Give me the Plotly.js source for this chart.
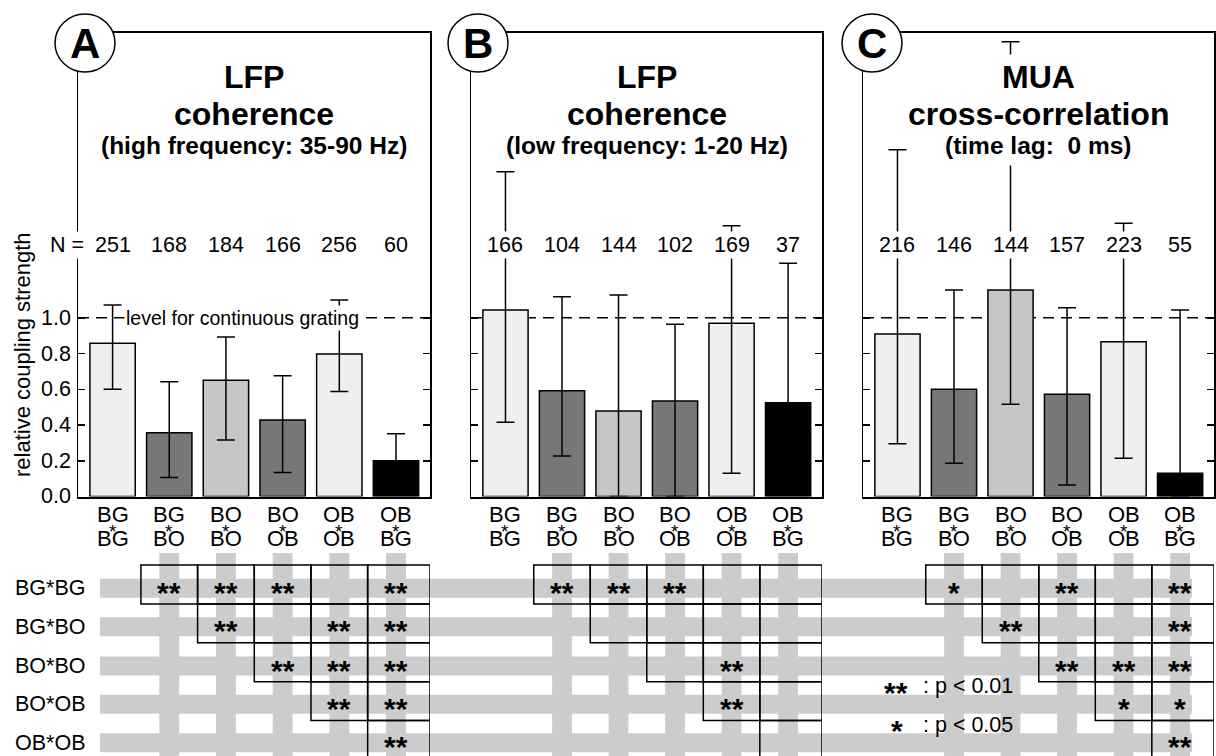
<!DOCTYPE html>
<html>
<head>
<meta charset="utf-8">
<script src="https://cdn.plot.ly/plotly-3.0.1.min.js"></script>
<style>
html,body{margin:0;padding:0;background:#fff;}
#chart{width:1216px;height:756px;}
</style>
</head>
<body>
<div id="chart"></div>
<script>
// Stimulus pair categories (first * second), one bar each
const categories = ['BG*BG', 'BG*BO', 'BO*BO', 'BO*OB', 'OB*OB', 'OB*BG'];
const pairTop    = ['BG', 'BG', 'BO', 'BO', 'OB', 'OB'];
const pairBottom = ['BG', 'BO', 'BO', 'OB', 'OB', 'BG'];
const barColors  = ['#efefef', '#777777', '#c6c6c6', '#777777', '#efefef', '#000000'];

// Panel A: LFP coherence, high frequency (35-90 Hz)
const meanA  = [0.857, 0.357, 0.650, 0.428, 0.797, 0.200];
const upperA = [1.072, 0.642, 0.893, 0.676, 1.100, 0.351];
const lowerA = [0.600, 0.107, 0.316, 0.135, 0.587, 0.060];
const nA     = [251, 168, 184, 166, 256, 60];

// Panel B: LFP coherence, low frequency (1-20 Hz)
const meanB  = [1.044, 0.592, 0.478, 0.534, 0.969, 0.525];
const upperB = [1.818, 1.118, 1.128, 0.964, 1.515, 1.306];
const lowerB = [0.415, 0.227, 0.000, 0.000, 0.130, 0.300];
const nB     = [166, 104, 144, 102, 169, 37];

// Panel C: MUA cross-correlation at 0 ms lag
const meanC  = [0.909, 0.600, 1.156, 0.572, 0.866, 0.130];
const upperC = [1.940, 1.156, 2.545, 1.057, 1.529, 1.044];
const lowerC = [0.295, 0.186, 0.516, 0.064, 0.214, 0.000];
const nC     = [216, 146, 144, 157, 223, 55];

const titleA = ['LFP', 'coherence', '(high frequency: 35-90 Hz)'];
const titleB = ['LFP', 'coherence', '(low frequency: 1-20 Hz)'];
const titleC = ['MUA', 'cross-correlation', '(time lag:  0 ms)'];

const yTickVals = [0, 0.2, 0.4, 0.6, 0.8, 1.0];
const yTickText = ['0.0', '0.2', '0.4', '0.6', '0.8', '1.0'];
const continuousLevel = 1.0;

// Pairwise significance: row r holds the comparisons with columns r+1 .. 5
const rowLabels = ['BG*BG', 'BG*BO', 'BO*BO', 'BO*OB', 'OB*OB'];
const sigA = [['**', '**', '**', '', '**'], ['**', '', '**', '**'], ['**', '**', '**'], ['**', '**'], ['**']];
const sigB = [['**', '**', '**', '', ''], ['', '', '', ''], ['', '**', ''], ['**', ''], ['']];
const sigC = [['*', '', '**', '', '**'], ['**', '', '', '**'], ['**', '**', '**'], ['*', '*'], ['**']];

// ---- page geometry ----
const W = 1216, H = 756;
const px = v => v / W;
const py = v => 1 - v / H;
const FONT = 'Liberation Sans, Arial, Helvetica, sans-serif';
const XR = [-0.61, 5.6];
const YR = [0, 2.594];
const plotTop = 33, plotBottom = 496.5;
const LABEL = 21.5;

const panels = [
  {letter: 'A', xa: 'x',  ya: 'y',  l: 78,  r: 430,  cx: 85,  mean: meanA, up: upperA, lo: lowerA, n: nA, sig: sigA, title: titleA},
  {letter: 'B', xa: 'x2', ya: 'y2', l: 471, r: 822,  cx: 478, mean: meanB, up: upperB, lo: lowerB, n: nB, sig: sigB, title: titleB},
  {letter: 'C', xa: 'x3', ya: 'y3', l: 863, r: 1214, cx: 872, mean: meanC, up: upperC, lo: lowerC, n: nC, sig: sigC, title: titleC}
];

const idx = categories.map((_, i) => i);
const traces = [];
const shapes = [];
const annotations = [];
const layout = {
  width: W, height: H,
  margin: {l: 0, r: 0, t: 0, b: 0},
  paper_bgcolor: '#ffffff',
  plot_bgcolor: 'rgba(0,0,0,0)',
  showlegend: false,
  font: {family: FONT, color: '#000', size: LABEL}
};

function txt(text, x, y, opts) {
  return Object.assign({
    text: text, x: x, y: y, xref: 'paper', yref: 'paper',
    showarrow: false, xanchor: 'center', yanchor: 'middle',
    font: {family: FONT, size: LABEL, color: '#000'}
  }, opts || {});
}

// horizontal grey bands of the comparison table (span all panels)
const rowCenters = [588.3, 626.7, 666, 704.3, 742.7];
rowCenters.forEach(yc => {
  shapes.push({type: 'rect', xref: 'paper', yref: 'paper', layer: 'above',
    x0: px(100), x1: px(1192), y0: py(yc - 9.5), y1: py(yc + 9.5),
    fillcolor: '#cccccc', line: {width: 0}});
});

panels.forEach((p, k) => {
  const sfx = k === 0 ? '' : String(k + 1);
  layout['xaxis' + sfx] = {
    domain: [px(p.l), px(p.r)], range: XR, anchor: 'y' + sfx,
    showline: true, linecolor: '#000', linewidth: 2, mirror: true,
    ticks: '', showticklabels: false, showgrid: false, zeroline: false, fixedrange: true
  };
  layout['yaxis' + sfx] = {
    domain: [py(plotBottom), py(plotTop)], range: YR, anchor: 'x' + sfx,
    showline: true, linecolor: '#000', linewidth: 1.5, mirror: 'ticks',
    ticks: 'inside', ticklen: 7, tickwidth: 1.5, tickcolor: '#000',
    tickvals: yTickVals, showticklabels: false,
    showgrid: false, zeroline: false, fixedrange: true
  };

  traces.push({
    type: 'bar', x: idx, y: p.mean, xaxis: p.xa, yaxis: p.ya, width: 0.8,
    marker: {color: barColors, line: {color: '#000', width: 1.5}},
    error_y: {
      type: 'data', symmetric: false,
      array: p.up.map((u, i) => u - p.mean[i]),
      arrayminus: p.mean.map((m, i) => m - p.lo[i]),
      color: '#000', thickness: 1.5, width: 9
    },
    hoverinfo: 'skip'
  });

  // dashed reference level
  shapes.push({type: 'line', xref: p.xa, yref: p.ya, layer: 'below',
    x0: XR[0], x1: XR[1], y0: continuousLevel, y1: continuousLevel,
    line: {color: '#000', width: 1.5, dash: '11px,7px'}});

  // vertical grey bands under the table columns
  for (let j = 1; j < categories.length; j++) {
    shapes.push({type: 'rect', xref: p.xa, yref: 'paper', layer: 'above',
      x0: j - 0.175, x1: j + 0.175, y0: py(553), y1: py(H),
      fillcolor: '#cccccc', line: {width: 0}});
  }
  // table cells (upper triangle)
  p.sig.forEach((row, r) => {
    row.forEach((s, c) => {
      const j = r + 1 + c;
      shapes.push({type: 'rect', xref: p.xa, yref: 'paper', layer: 'above',
        x0: j - 0.5, x1: j === 5 ? XR[1] : j + 0.5,
        y0: py(565 + 38.9 * r), y1: py(565 + 38.9 * (r + 1)),
        fillcolor: 'rgba(0,0,0,0)', line: {color: '#000', width: 1.5}});
      if (s) {
        annotations.push(txt(s, j, py(rowCenters[r] + 4), {xref: p.xa,
          font: {family: FONT, size: 30, color: '#000', weight: 'bold'}}));
      }
    });
  });

  // panel letter in a circle
  shapes.push({type: 'circle', xref: 'paper', yref: 'paper', layer: 'above',
    x0: px(p.cx - 30), x1: px(p.cx + 30), y0: py(72), y1: py(14),
    fillcolor: '#ffffff', line: {color: '#000', width: 1.5}});
  annotations.push(txt('<b>' + p.letter + '</b>', px(p.cx), py(44), {font: {family: FONT, size: 42, color: '#000'}}));

  // panel titles
  const mid = px((p.l + p.r) / 2);
  annotations.push(txt('<b>' + p.title[0] + '</b>', mid, py(77), {bgcolor: '#ffffff', borderpad: 4, font: {family: FONT, size: 32, color: '#000'}}));
  annotations.push(txt('<b>' + p.title[1] + '</b>', mid, py(114), {bgcolor: '#ffffff', borderpad: 2, font: {family: FONT, size: 32, color: '#000'}}));
  annotations.push(txt('<b>' + p.title[2] + '</b>', mid, py(145), {bgcolor: '#ffffff', borderpad: 6, font: {family: FONT, size: 24.5, color: '#000'}}));

  // sample sizes
  p.n.forEach((n, i) => {
    annotations.push(txt(String(n), i, py(245), {xref: p.xa, bgcolor: '#ffffff', borderpad: 1}));
  });

  // stacked category labels
  idx.forEach(i => {
    annotations.push(txt(pairTop[i], i, py(514), {xref: p.xa, font: {family: FONT, size: 22, color: '#000'}}));
    annotations.push(txt('*', i, py(531), {xref: p.xa, font: {family: FONT, size: 19, color: '#000'}}));
    annotations.push(txt(pairBottom[i], i, py(538.7), {xref: p.xa, font: {family: FONT, size: 22, color: '#000'}}));
  });
});

// y tick labels on the first panel
yTickVals.forEach((v, i) => {
  annotations.push(txt(yTickText[i], px(73), v, {yref: 'y', xanchor: 'right'}));
});

annotations.push(txt('N =', px(67), py(245), {bgcolor: '#ffffff', borderpad: 1}));
annotations.push(txt('level for continuous grating', 2.3, continuousLevel, {xref: 'x', yref: 'y', bgcolor: '#ffffff', borderpad: 1, font: {family: FONT, size: 19.5, color: '#000'}}));
annotations.push(txt('relative coupling strength', px(23), py(355), {textangle: -90, font: {family: FONT, size: 22, color: '#000'}}));

rowLabels.forEach((lab, r) => {
  annotations.push(txt(lab, px(13), py(rowCenters[r]), {xanchor: 'left'}));
});

// significance key
annotations.push(txt('**', px(896), py(688 + 4), {font: {family: FONT, size: 30, color: '#000', weight: 'bold'}}));
annotations.push(txt(': p < 0.01', px(921), py(686), {xanchor: 'left'}));
annotations.push(txt('*', px(897), py(726 + 4), {font: {family: FONT, size: 30, color: '#000', weight: 'bold'}}));
annotations.push(txt(': p < 0.05', px(921), py(725), {xanchor: 'left'}));

layout.shapes = shapes;
layout.annotations = annotations;

Plotly.newPlot('chart', traces, layout, {staticPlot: true, displayModeBar: false});
</script>
</body>
</html>
